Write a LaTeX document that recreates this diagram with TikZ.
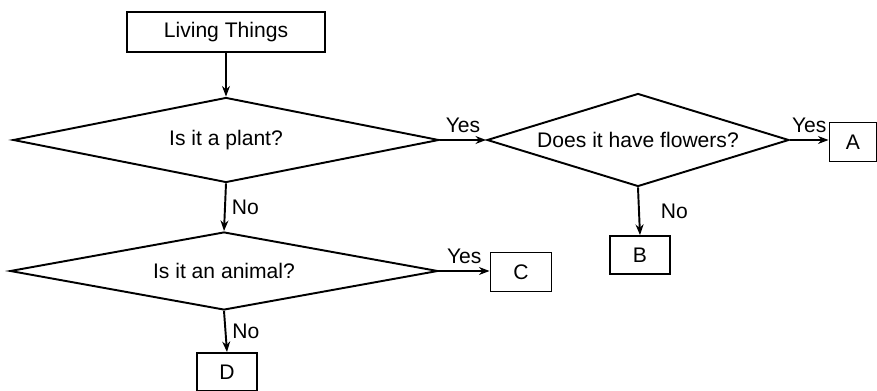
\documentclass[tikz,border=0pt]{standalone}
\usepackage{fontspec}
\setmainfont{Liberation Sans}
\usetikzlibrary{shapes.geometric,arrows.meta}
\begin{document}
\begin{tikzpicture}[x=0.02cm,y=-0.02cm]
  \tikzstyle{every node}=[font=\fontsize{12}{14}\selectfont]
  \tikzstyle{box}=[rectangle,draw,line width=1.1pt,inner sep=0pt]
  \tikzstyle{ask}=[diamond,draw,line width=1.1pt,inner sep=0pt,aspect=3]
  \tikzstyle{arr}=[line width=1.1pt,-{Stealth[length=6pt,width=4.5pt]}]
  \useasboundingbox (0,0) rectangle (877,391);
  \node[box,minimum width=3.96cm,minimum height=0.8cm] (living) at (226,32) {Living Things};
  \node[ask,minimum width=8.52cm,minimum height=1.7cm] (plant) at (226,140) {Is it a plant?};
  \node[ask,minimum width=6.04cm,minimum height=1.86cm] (flowers) at (638,140) {Does it have flowers?};
  \node[ask,minimum width=8.56cm,minimum height=1.56cm] (animal) at (224,271) {Is it an animal?};
  \node[box,minimum width=0.94cm,minimum height=0.78cm] (A) at (853,142) {A};
  \node[box,minimum width=1.2cm,minimum height=0.76cm] (B) at (640,255) {B};
  \node[box,minimum width=1.22cm,minimum height=0.78cm] (C) at (521,272) {C};
  \node[box,minimum width=1.2cm,minimum height=0.76cm] (D) at (227,372) {D};
  \draw[arr] (living.south) -- (plant.north);
  \draw[arr] (plant.east) -- node[above] {Yes} (flowers.west);
  \draw[arr] (flowers.east) -- node[above] {Yes} (flowers.east -| A.west);
  \draw[arr] (flowers.south) -- node[right=3mm] {No} (B.north);
  \draw[arr] (plant.south) -- node[right] {No} (animal.north);
  \draw[arr] (animal.east) -- node[above] {Yes} (animal.east -| C.west);
  \draw[arr] (animal.south) -- node[right] {No} (D.north);
\end{tikzpicture}
\end{document}
